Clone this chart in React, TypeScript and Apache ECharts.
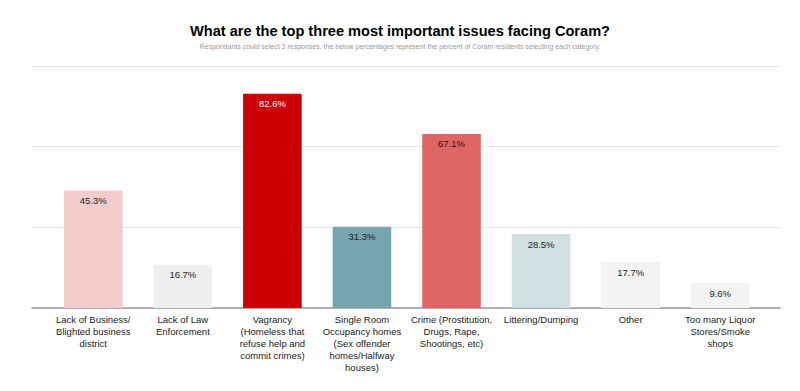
import React, { useEffect, useRef } from "react";
import * as echarts from "echarts";

const title = "What are the top three most important issues facing Coram?";
const subtitle =
  "Respondants could select 3 responses, the below percentages represent the percent of Coram residents selecting each category.";
const categories = [
  "Lack of Business/\nBlighted business\ndistrict",
  "Lack of Law\nEnforcement",
  "Vagrancy\n(Homeless that\nrefuse help and\ncommit crimes)",
  "Single Room\nOccupancy homes\n(Sex offender\nhomes/Halfway\nhouses)",
  "Crime (Prostitution,\nDrugs, Rape,\nShootings, etc)",
  "Littering/Dumping",
  "Other",
  "Too many Liquor\nStores/Smoke\nshops",
];
const values = [45.3, 16.7, 82.6, 31.3, 67.1, 28.5, 17.7, 9.6];
const barColors = ["#f4cccc", "#efefef", "#cc0000", "#76a5af", "#e06666", "#d0e0e3", "#f3f3f3", "#f3f3f3"];
const labelColors = ["#222222", "#222222", "#ffffff", "#222222", "#3d0000", "#222222", "#222222", "#222222"];

export default function App() {
  const ref = useRef<HTMLDivElement>(null);
  useEffect(() => {
    if (!ref.current) return;
    const chart = echarts.init(ref.current, null, { renderer: "svg" });
    const yMax = 93.3;
    const yInt = 31.1;
    chart.setOption({
      animation: false,
      backgroundColor: "#ffffff",
      title: [
        {
          text: title,
          left: "center",
          top: 18,
          textStyle: { fontFamily: "Liberation Sans", fontSize: 14.6, fontWeight: "bold", color: "#000000" },
        },
        {
          text: subtitle,
          left: "center",
          top: 38,
          textStyle: { fontFamily: "Liberation Sans", fontSize: 7, fontWeight: "normal", color: "#999999" },
        },
      ],
      grid: [
        { left: 32, right: 20, top: 66, bottom: 83, containLabel: false },
        { left: 48.5, right: 35, top: 66, bottom: 83, containLabel: false },
      ],
      xAxis: [
        {
          gridIndex: 0,
          type: "value",
          min: 0,
          max: 1,
          show: true,
          axisLine: { show: true, onZero: false, lineStyle: { color: "#999999", width: 1.5 } },
          axisTick: { show: false },
          axisLabel: { show: false },
          splitLine: { show: false },
        },
        {
          gridIndex: 1,
          type: "category",
          data: categories,
          axisLine: { show: false },
          axisTick: { show: false },
          axisLabel: {
            interval: 0,
            fontFamily: "Liberation Sans",
            fontSize: 9.5,
            color: "#222222",
            lineHeight: 12,
            margin: 5,
          },
        },
      ],
      yAxis: [
        {
          gridIndex: 0,
          type: "value",
          min: 0,
          max: yMax,
          interval: yInt,
          axisLine: { show: false },
          axisTick: { show: false },
          axisLabel: { show: false },
          splitLine: { show: true, lineStyle: { color: "#e6e6e6", width: 1 } },
        },
        {
          gridIndex: 1,
          type: "value",
          min: 0,
          max: yMax,
          interval: yInt,
          axisLine: { show: false },
          axisTick: { show: false },
          axisLabel: { show: false },
          splitLine: { show: false },
        },
      ],
      series: [
        {
          type: "bar",
          xAxisIndex: 1,
          yAxisIndex: 1,
          barWidth: 58.6,
          data: values.map((v, i) => ({
            value: v,
            itemStyle: { color: barColors[i] },
            label: { color: labelColors[i] },
          })),
          label: {
            show: true,
            position: "insideTop",
            distance: 5,
            fontFamily: "Liberation Sans",
            fontSize: 9.5,
            formatter: (p: any) => p.value.toFixed(1) + "%",
          },
        },
      ],
    });
    return () => chart.dispose();
  }, []);
  return <div ref={ref} style={{ position: "fixed", left: 0, top: 0, width: 800, height: 391 }} />;
}
